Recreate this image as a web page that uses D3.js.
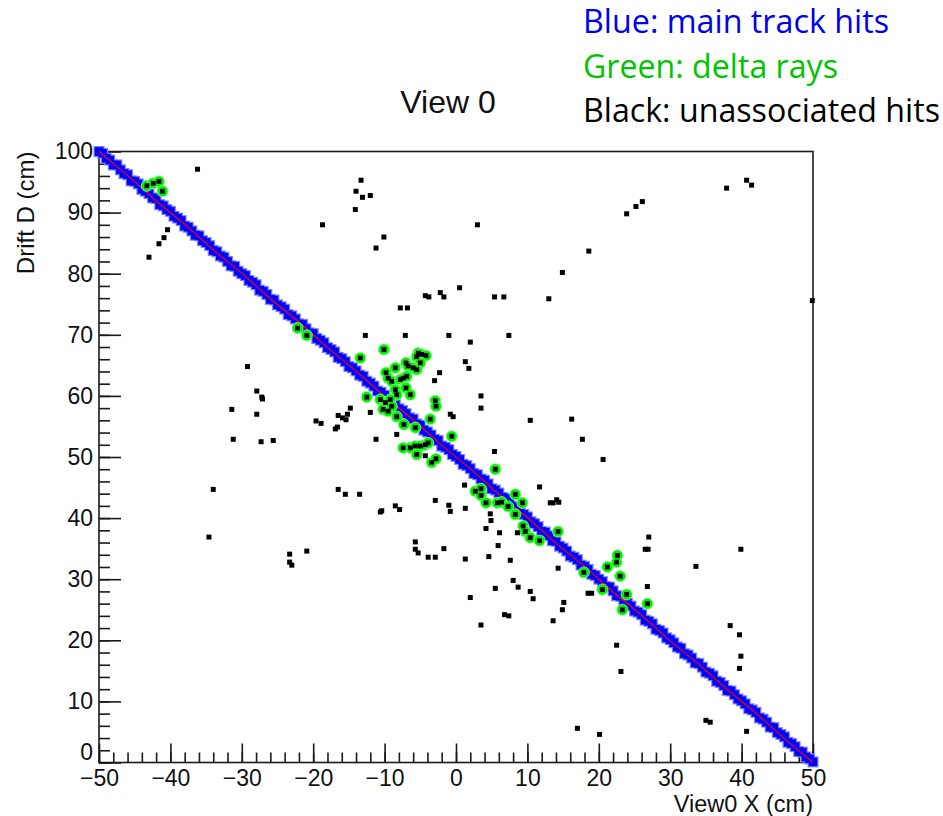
<!DOCTYPE html>
<html>
<head>
<meta charset="utf-8">
<script src="https://cdn.jsdelivr.net/npm/d3@7"></script>
<style>
body { margin: 0; background: #fff; }
</style>
</head>
<body>
<div id="graph"></div>
<script>
var w = 943
var h = 816

// tick labels
var xTicks = [-50, -40, -30, -20, -10, 0, 10, 20, 30, 40, 50]
var yTicks = [0, 10, 20, 30, 40, 50, 60, 70, 80, 90, 100]

var legendLabels = ["Blue: main track hits", "Green: delta rays", "Black: unassociated hits"]

// main track hits [x, drift]
var trackHits = [
  [-50,100.0],[-49.5,99.7],[-49,98.9],[-48.5,98.6],[-48,97.8],[-47.5,97.8],[-47,97.0],[-46.5,96.4],[-46,96.2],[-45.5,95.2],
  [-45,95.1],[-44.5,94.7],[-44,93.8],[-43.5,93.5],[-43,93.1],[-42.5,92.4],[-42,92.3],[-41.5,91.3],[-41,91.1],[-40.5,90.5],
  [-40,90.2],[-39.5,89.4],[-39,89.1],[-38.5,88.7],[-38,87.8],[-37.5,87.6],[-37,87.0],[-36.5,86.3],[-36,86.2],[-35.5,85.4],
  [-35,85.1],[-34.5,84.6],[-34,83.8],[-33.5,83.6],[-33,82.9],[-32.5,82.7],[-32,82.0],[-31.5,81.3],[-31,81.2],[-30.5,80.4],
  [-30,80.0],[-29.5,79.7],[-29,78.9],[-28.5,78.6],[-28,78.2],[-27.5,77.3],[-27,77.1],[-26.5,76.6],[-26,75.8],[-25.5,75.7],
  [-25,74.9],[-24.5,74.6],[-24,74.2],[-23.5,73.3],[-23,73.1],[-22.5,72.6],[-22,71.8],[-21.5,71.7],[-21,71.0],[-20.5,70.3],
  [-20,70.2],[-19.5,69.4],[-19,69.1],[-18.5,68.7],[-18,67.9],[-17.5,67.6],[-17,67.2],[-16.5,66.3],[-16,66.1],[-15.5,65.6],
  [-15,64.8],[-14.5,64.6],[-14,64.1],[-13.5,63.4],[-13,63.2],[-12.5,62.4],[-12,62.1],[-11.5,61.6],[-11,60.8],[-10.5,60.6],
  [-10,60.1],[-9.5,59.3],[-9,59.2],[-8.5,58.6],[-8,57.9],[-7.5,57.6],[-7,57.1],[-6.5,56.4],[-6,56.2],[-5.5,55.4],
  [-5,55.2],[-4.5,54.4],[-4,54.1],[-3.5,53.6],[-3,52.9],[-2.5,52.7],[-2,51.8],[-1.5,51.6],[-1,51.2],[-0.5,50.4],
  [0,50.1],[0.5,49.6],[1,48.8],[1.5,48.6],[2,48.1],[2.5,47.3],[3,47.1],[3.5,46.4],[4,46.2],[4.5,45.6],
  [5,44.8],[5.5,44.6],[6,44.1],[6.5,43.4],[7,43.2],[7.5,42.6],[8,41.9],[8.5,41.7],[9,40.9],[9.5,40.6],
  [10,40.2],[10.5,39.4],[11,39.1],[11.5,38.6],[12,37.8],[12.5,37.7],[13,37.1],[13.5,36.3],[14,36.2],[14.5,35.4],
  [15,35.1],[15.5,34.6],[16,33.8],[16.5,33.6],[17,33.2],[17.5,32.3],[18,32.1],[18.5,31.6],[19,30.8],[19.5,30.6],
  [20,30.0],[20.5,29.6],[21,28.8],[21.5,28.7],[22,28.1],[22.5,27.3],[23,27.2],[23.5,26.4],[24,26.1],[24.5,25.6],
  [25,24.8],[25.5,24.6],[26,24.2],[26.5,23.3],[27,23.1],[27.5,22.7],[28,21.8],[28.5,21.6],[29,21.2],[29.5,20.4],
  [30,20.1],[30.5,19.6],[31,18.9],[31.5,18.7],[32,17.8],[32.5,17.6],[33,17.1],[33.5,16.3],[34,16.2],[34.5,15.6],
  [35,14.8],[35.5,14.6],[36,14.2],[36.5,13.3],[37,13.1],[37.5,12.6],[38,11.8],[38.5,11.7],[39,11.1],[39.5,10.4],
  [40,10.1],[40.5,9.6],[41,8.8],[41.5,8.6],[42,8.2],[42.5,7.3],[43,7.1],[43.5,6.6],[44,5.8],[44.5,5.7],
  [45,4.9],[45.5,4.6],[46,4.2],[46.5,3.3],[47,3.1],[47.5,2.6],[48,1.8],[48.5,1.7],[49,0.9],[49.5,0.6],[50,0.1]
]

// fitted trajectory (red)
var trajectory = [
  [-50,100.0],[-46,96.1],[-42,91.9],[-38,88.1],[-34,83.9],[-30,80.1],[-26,75.9],[-22,72.1],[-18,67.9],[-14,64.1],
  [-10,59.9],[-6,56.1],[-2,51.9],[2,48.1],[6,43.9],[10,40.1],[14,35.9],[18,32.1],[22,27.9],[26,24.1],
  [30,19.9],[34,16.1],[38,11.9],[42,8.1],[46,3.9],[50,0.0]
]

// delta ray hits
var deltaHits = [
  [-43.3,94.4],[-42.4,94.8],[-41.6,95.1],[-41.1,93.5],
  [-22.2,71.1],[-20.9,69.9],
  [-13.4,66.2],[-10.1,67.6],
  [-5.3,67.0],[-4.8,66.8],[-4.2,66.6],[-5.5,66.4],[-5.0,65.4],
  [-7.0,65.4],[-6.7,64.9],[-6.0,64.6],[-5.5,64.3],[-8.5,64.6],
  [-9.8,63.8],[-9.5,62.9],[-9.0,62.4],[-7.8,62.7],[-7.4,62.9],[-6.9,63.2],
  [-7.0,61.3],[-6.4,60.2],[-8.5,61.0],[-8.3,60.2],[-12.5,59.8],
  [-10.6,59.4],[-9.9,58.9],[-9.2,59.4],[-10.2,57.8],[-9.5,57.5],[-9.0,58.3],
  [-8.3,56.6],[-7.3,55.3],[-5.7,54.8],[-3.6,56.2],[-2.9,59.2],[-2.8,58.3],[-0.6,53.4],
  [-7.4,51.5],[-6.4,51.5],[-5.7,51.8],[-5.0,51.8],[-4.3,52.0],[-3.9,52.3],[-5.5,50.4],
  [-3.4,49.1],[-2.8,49.7],[5.5,48.0],
  [2.7,44.4],[3.5,44.8],[3.5,43.7],[4.2,42.5],[5.8,42.5],[6.4,42.6],[7.3,41.9],[8.3,40.6],[8.3,43.9],[9.3,42.5],
  [9.4,38.7],[9.7,37.8],[10.4,36.8],[11.7,36.3],[14.3,37.8],
  [17.9,31.1],[20.5,28.3],[21.2,32.0],[22.5,32.8],[22.6,33.9],[23.0,30.5],[23.9,27.5],[23.3,25.0],[26.8,26.0]
]

// unassociated hits
var looseHits = [
  [-36.2,97.1],[-43.0,82.7],[-41.6,84.9],[-40.9,85.9],[-40.4,87.2],
  [-13.3,95.3],[-14.0,93.5],[-13.1,92.5],[-12.0,92.8],[-14.1,90.5],[-18.7,88.0],[-10.1,86.0],[-11.2,84.2],
  [3.0,88.0],[37.9,94.0],[40.7,95.3],[41.4,94.5],[23.9,89.8],[25.2,91.0],[26.1,91.8],[18.6,83.7],[14.9,80.2],
  [49.9,75.6],[13.0,75.9],[5.4,76.2],[6.7,76.2],[0.5,77.7],[-2.2,76.9],[-1.7,76.2],[-4.3,76.4],[-3.8,76.2],
  [-7.8,74.4],[-6.8,74.4],
  [-7.1,69.9],[-1.0,69.9],[2.0,68.8],[7.4,69.9],[-12.7,69.9],
  [1.3,65.6],[1.8,64.5],[-2.3,63.8],[-3.0,62.5],[3.5,60.0],[3.5,58.0],[10.4,56.0],[16.2,56.2],[17.7,52.9],
  [-29.2,64.8],[-27.9,60.8],[-27.2,59.8],[-27.1,59.5],[-31.4,57.8],[-27.9,57.0],[-31.2,52.9],[-27.3,52.5],[-25.6,52.7],
  [-19.6,55.9],[-18.9,55.5],[-16.5,56.8],[-15.9,56.4],[-15.4,56.1],[-15.2,57.0],[-14.8,58.0],[-16.9,54.6],[-16.6,54.9],
  [-12.0,57.3],[-11.2,52.9],[-8.3,53.7],[-0.8,57.0],[-0.4,56.6],[-4.3,50.2],
  [-34.0,44.7],[-34.6,36.9],[-23.3,34.1],[-23.3,32.8],[-23.0,32.3],[-20.9,34.6],
  [-16.5,44.7],[-15.5,43.9],[-13.5,43.9],[-10.6,41.0],[-10.4,41.2],[-8.5,42.0],[-7.9,41.4],
  [-5.7,36.1],[-5.7,34.9],[-5.3,34.3],[-3.9,33.6],[-2.9,33.6],[-1.7,35.0],[1.3,33.3],[4.6,33.7],[5.9,35.5],[7.6,33.1],
  [5.4,50.9],[1.2,45.4],[11.7,45.1],[20.6,49.6],[-2.9,42.9],[-1.0,42.1],[-0.8,41.1],[1.3,41.6],[4.8,40.7],[4.9,39.6],
  [4.2,38.3],[6.1,37.6],[8.6,37.6],[13.2,42.5],[13.6,42.5],[14.1,43.0],[14.4,42.6],
  [14.3,31.8],[8.0,29.8],[8.7,28.7],[5.5,28.5],[2.0,27.0],[10.4,28.0],[10.8,26.8],[18.5,27.7],[19.0,27.7],
  [15.1,26.2],[14.9,25.0],[6.8,24.2],[7.4,24.0],[3.5,22.5],[13.6,23.2],[22.5,19.2],
  [27.0,36.9],[26.5,34.9],[26.9,34.9],[39.9,34.9],[33.6,32.1],[26.8,28.8],[38.4,22.4],[39.7,20.9],[39.9,17.4],
  [39.7,15.4],[23.1,14.9],[35.0,6.9],[35.6,6.6],[40.7,5.1],[17.0,5.6],[20.1,4.6]
]

var svg = d3.select("#graph").append("svg")
    .attr("width", w)
    .attr("height", h)

var x = d3.scaleLinear().domain([-50, 50]).range([99, 813])
var y = d3.scaleLinear().domain([0, 100]).range([762.5, 151.5])

var axisFont = "'Liberation Sans', Arial, Helvetica, sans-serif"

// frame
svg.append("rect")
    .attr("x", x(-50))
    .attr("y", y(100))
    .attr("width", x(50) - x(-50))
    .attr("height", y(0) - y(100))
    .attr("fill", "none")
    .attr("stroke", "#1a1a1a")
    .attr("stroke-width", 1.6)

// minor ticks
svg.append("g").attr("transform", "translate(0," + y(0) + ")")
    .call(d3.axisBottom(x).tickValues(x.ticks(50)).tickSize(-10).tickFormat(""))
    .call(g => g.select(".domain").remove())
svg.append("g").attr("transform", "translate(" + x(-50) + ",0)")
    .call(d3.axisLeft(y).tickValues(y.ticks(50)).tickSize(-11).tickFormat(""))
    .call(g => g.select(".domain").remove())

// major ticks + labels
var xAxis = svg.append("g").attr("transform", "translate(0," + y(0) + ")")
    .call(d3.axisBottom(x).tickValues(xTicks).tickSize(-19).tickPadding(7))
var yAxis = svg.append("g").attr("transform", "translate(" + x(-50) + ",0)")
    .call(d3.axisLeft(y).tickValues(yTicks).tickSize(-22).tickPadding(6))

svg.selectAll(".domain").remove()
svg.selectAll(".tick line").attr("stroke", "#1a1a1a").attr("stroke-width", 1.6)
svg.selectAll(".tick text").attr("fill", "#111")
xAxis.attr("font-family", axisFont).attr("font-size", 23)
yAxis.attr("font-family", axisFont).attr("font-size", 23)
// lift the "0" label a little off the corner so it clears "-50"
yAxis.selectAll(".tick text").filter(d => d === 0).attr("dy", "-0.11em")

// axis titles
svg.append("text")
    .attr("x", x(50))
    .attr("y", 812)
    .attr("text-anchor", "end")
    .attr("font-family", axisFont)
    .attr("font-size", 23.5)
    .attr("fill", "#111")
    .text("View0 X (cm)")

svg.append("text")
    .attr("transform", "translate(34," + y(100) + ") rotate(-90)")
    .attr("text-anchor", "end")
    .attr("font-family", axisFont)
    .attr("font-size", 24)
    .attr("fill", "#111")
    .text("Drift D (cm)")

// title
svg.append("text")
    .attr("x", 448)
    .attr("y", 113)
    .attr("text-anchor", "middle")
    .attr("font-family", axisFont)
    .attr("font-size", 32)
    .attr("fill", "#111")
    .text("View 0")

// legend text (slide annotation)
var legendColors = ["#0000f0", "#00c400", "#000000"]
var legendWidths = [306, 255, 357]
svg.selectAll(".legend").data(legendLabels).enter().append("text")
    .attr("class", "legend")
    .attr("x", 583)
    .attr("y", (d, i) => 33 + i * 44.5)
    .attr("font-family", "'Open Sans', 'Noto Sans', sans-serif")
    .attr("font-size", 32)
    .attr("textLength", (d, i) => legendWidths[i])
    .attr("lengthAdjust", "spacingAndGlyphs")
    .attr("fill", (d, i) => legendColors[i])
    .text(d => d)

// main track: soft halo then core squares
svg.append("g").selectAll("rect").data(trackHits).enter().append("rect")
    .attr("x", d => x(d[0]) - 5.5)
    .attr("y", d => y(d[1]) - 5.5)
    .attr("width", 11)
    .attr("height", 11)
    .attr("fill", "#8080ff")
svg.append("g").selectAll("rect").data(trackHits).enter().append("rect")
    .attr("x", d => x(d[0]) - 4.3)
    .attr("y", d => y(d[1]) - 4.3)
    .attr("width", 8.6)
    .attr("height", 8.6)
    .attr("fill", "#0000ff")

// fitted trajectory
svg.append("path")
    .datum(trajectory)
    .attr("d", d3.line().x(d => x(d[0])).y(d => y(d[1])))
    .attr("fill", "none")
    .attr("stroke", "#ff0000")
    .attr("stroke-width", 1.2)

// delta rays: green circle with black centre
svg.append("g").selectAll("circle").data(deltaHits).enter().append("circle")
    .attr("cx", d => x(d[0]))
    .attr("cy", d => y(d[1]))
    .attr("r", 5.6)
    .attr("fill", "#00f000")
    .attr("stroke", "#90ff90")
    .attr("stroke-width", 0.8)
svg.append("g").selectAll("rect").data(deltaHits).enter().append("rect")
    .attr("x", d => x(d[0]) - 2.4)
    .attr("y", d => y(d[1]) - 2.4)
    .attr("width", 4.8)
    .attr("height", 4.8)
    .attr("fill", "#000")

// unassociated hits
svg.append("g").selectAll("rect").data(looseHits).enter().append("rect")
    .attr("x", d => x(d[0]) - 2.5)
    .attr("y", d => y(d[1]) - 2.5)
    .attr("width", 5)
    .attr("height", 5)
    .attr("fill", "#000")
</script>
</body>
</html>
